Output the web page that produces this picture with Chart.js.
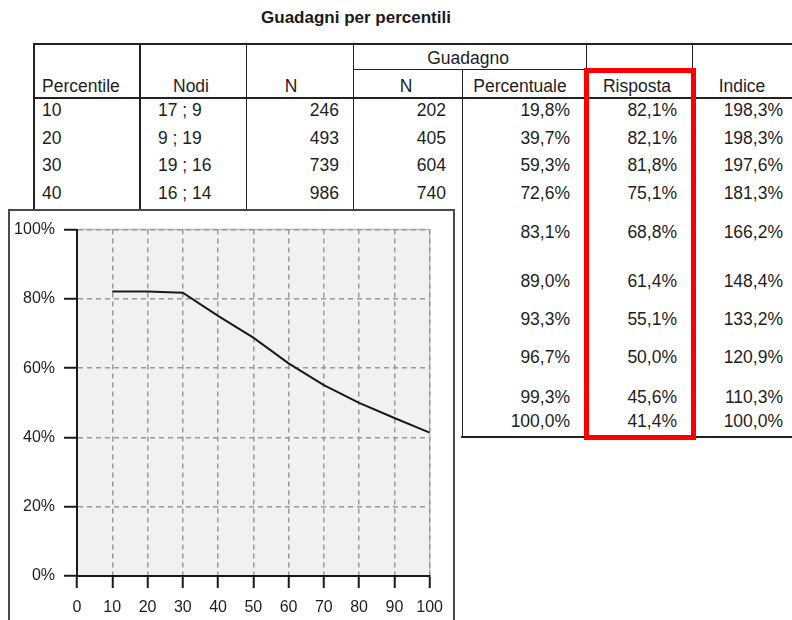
<!DOCTYPE html>
<html>
<head>
<meta charset="utf-8">
<script src="https://cdn.jsdelivr.net/npm/chart.js@4"></script>
<style>
html,body{margin:0;padding:0;background:#fff;}
#page{position:relative;width:792px;height:620px;overflow:hidden;font-family:"Liberation Sans",Arial,sans-serif;color:#1e1e1e;background:#fff;}
.t{position:absolute;height:20px;line-height:20px;font-size:17.5px;white-space:nowrap;}
.ln{position:absolute;background:#222;}
#title{position:absolute;left:206px;width:300px;top:8px;height:20px;line-height:20px;text-align:center;font-weight:bold;font-size:17px;color:#1a1a1a;}
#redbox{position:absolute;left:584px;top:68px;width:112px;height:372px;box-sizing:border-box;border:5px solid #ff0000;}
#chartbox{position:absolute;left:8px;top:209px;width:447px;height:420px;box-sizing:border-box;border:2px solid #4a4a4a;background:#fff;}
#cwrap{position:absolute;left:0;top:0;width:443px;height:409px;}
</style>
</head>
<body>
<div id="page">
  <div id="title">Guadagni per percentili</div>
  <div id="table"></div>
  <div id="redbox"></div>
  <div id="chartbox"><div id="cwrap"><canvas id="c"></canvas></div></div>
</div>
<script>
// ---- data ----
const percentiles = [10, 20, 30, 40, 50, 60, 70, 80, 90, 100];
const nodi = ["17 ; 9", "9 ; 19", "19 ; 16", "16 ; 14"];
const nCases = [246, 493, 739, 986];
const gainN = [202, 405, 604, 740];
const gainPct = [19.8, 39.7, 59.3, 72.6, 83.1, 89.0, 93.3, 96.7, 99.3, 100.0];
const response = [82.1, 82.1, 81.8, 75.1, 68.8, 61.4, 55.1, 50.0, 45.6, 41.4];
const indexVals = [198.3, 198.3, 197.6, 181.3, 166.2, 148.4, 133.2, 120.9, 110.3, 100.0];
const headerTop = ["Guadagno"];
const headerCols = ["Percentile", "Nodi", "N", "N", "Percentuale", "Risposta", "Indice"];
const yTickValues = [0, 20, 40, 60, 80, 100];

// ---- layout (positions only) ----
const rowY = [110, 138, 165, 193, 232, 281, 319, 357, 397, 421];
const table = document.getElementById('table');
function line(x, y, w, h) {
  const d = document.createElement('div');
  d.className = 'ln';
  d.style.left = x + 'px'; d.style.top = y + 'px';
  d.style.width = w + 'px'; d.style.height = h + 'px';
  table.appendChild(d);
}
function text(s, yc, opts) {
  const d = document.createElement('div');
  d.className = 't';
  d.textContent = s;
  d.style.top = (yc - 10) + 'px';
  if (opts.left !== undefined) d.style.left = opts.left + 'px';
  if (opts.right !== undefined) { d.style.right = (792 - opts.right) + 'px'; d.style.textAlign = 'right'; }
  if (opts.center !== undefined) { d.style.left = (opts.center - 100) + 'px'; d.style.width = '200px'; d.style.textAlign = 'center'; }
  table.appendChild(d);
}
const fmtPct = v => v.toFixed(1).replace('.', ',') + '%';

// lines
line(33, 43, 759, 2);
line(33, 97, 759, 2);
line(353, 69, 233, 1);
line(461, 436, 331, 2);
line(33, 43, 2, 577);
line(139, 43, 2, 577);
line(246, 43, 1, 577);
line(353, 43, 1, 577);
line(462, 69, 1, 368);
line(586, 43, 1, 27);
line(692, 43, 1, 394);

// headers
text(headerTop[0], 58, {center: 468});
text(headerCols[0], 86, {left: 42});
text(headerCols[1], 86, {center: 191});
text(headerCols[2], 86, {center: 291});
text(headerCols[3], 86, {center: 406});
text(headerCols[4], 86, {center: 520});
text(headerCols[5], 86, {center: 637});
text(headerCols[6], 86, {center: 742});

// rows
percentiles.forEach((p, i) => {
  const y = rowY[i];
  text(String(p), y, {left: 42});
  if (i < nodi.length) text(nodi[i], y, {left: 158});
  if (i < nCases.length) text(String(nCases[i]), y, {right: 339});
  if (i < gainN.length) text(String(gainN[i]), y, {right: 446});
  text(fmtPct(gainPct[i]), y, {right: 570});
  text(fmtPct(response[i]), y, {right: 677});
  text(fmtPct(indexVals[i]), y, {right: 783});
});

// ---- chart ----
Chart.defaults.font.family = '"Liberation Sans", Arial, sans-serif';
Chart.defaults.font.size = 16;
Chart.defaults.color = '#1e1e1e';

const plotBg = {
  id: 'plotBg',
  beforeDraw(chart) {
    const {ctx, chartArea: a} = chart;
    ctx.save();
    ctx.fillStyle = '#f1f1f1';
    ctx.fillRect(a.left, a.top, a.right - a.left, a.bottom - a.top);
    ctx.strokeStyle = '#bdbdbd';
    ctx.lineWidth = 1.5;
    ctx.beginPath();
    ctx.moveTo(a.left, a.top);
    ctx.lineTo(a.right, a.top);
    ctx.lineTo(a.right, a.bottom);
    ctx.stroke();
    ctx.restore();
  }
};

new Chart(document.getElementById('c'), {
  type: 'line',
  data: {
    datasets: [{
      data: percentiles.map((p, i) => ({x: p, y: response[i]})),
      borderColor: '#1a1a1a',
      borderWidth: 2,
      pointRadius: 0,
      fill: false,
      tension: 0
    }]
  },
  options: {
    responsive: true,
    maintainAspectRatio: false,
    animation: false,
    events: [],
    layout: {padding: {left: 0, right: 23, top: 12, bottom: 0}},
    plugins: {legend: {display: false}, tooltip: {enabled: false}},
    scales: {
      x: {
        type: 'linear', min: 0, max: 100,
        ticks: {stepSize: 10, padding: 10, color: '#1e1e1e'},
        grid: {color: '#9a9a9a', lineWidth: 1.5, tickLength: 12, tickColor: '#1a1a1a', tickWidth: 2},
        border: {display: true, color: '#1a1a1a', width: 2, dash: [5, 4]},
        afterFit(s) { s.height = 44; }
      },
      y: {
        type: 'linear', min: yTickValues[0], max: yTickValues[yTickValues.length - 1],
        afterBuildTicks(s) { s.ticks = yTickValues.map(v => ({value: v})); },
        ticks: {padding: 9, color: '#1e1e1e', callback: v => v + '%'},
        grid: {color: '#9a9a9a', lineWidth: 1.5, tickLength: 13, tickColor: '#1a1a1a', tickWidth: 2},
        border: {display: true, color: '#1a1a1a', width: 2, dash: [5, 4]},
        afterFit(s) { s.width = 67; }
      }
    }
  },
  plugins: [plotBg]
});
</script>
</body>
</html>
